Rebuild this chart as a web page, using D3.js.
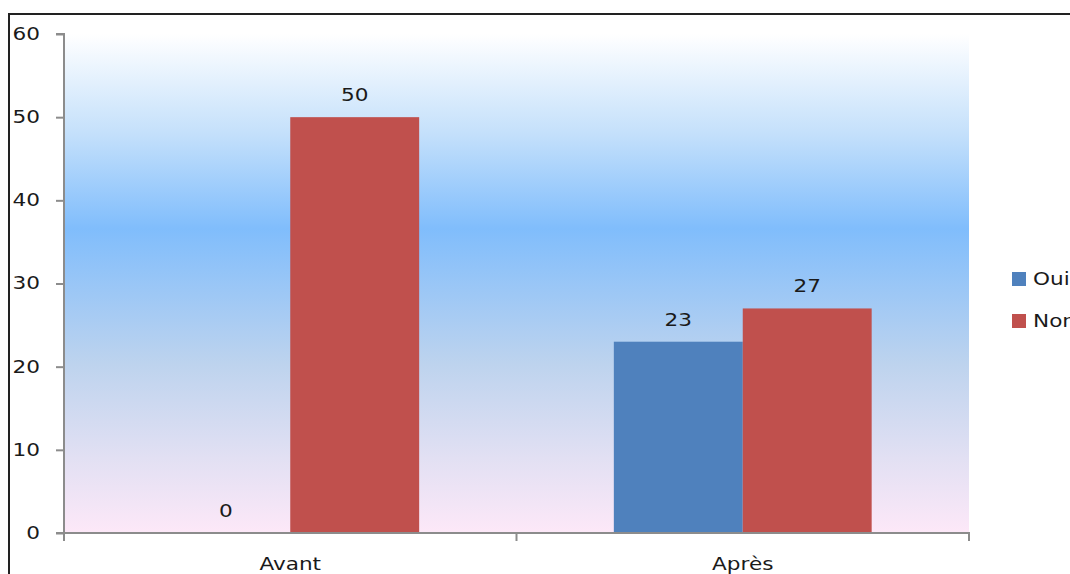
<!DOCTYPE html>
<html><head><meta charset="utf-8">
<script src="https://cdn.jsdelivr.net/npm/d3@7"></script>
<style>body{margin:0;background:#fff}svg{display:block}</style>
</head><body>
<svg id="c" width="1070" height="574"></svg>
<script>
const categories = ["Avant", "Après"];
const seriesNames = ["Oui", "Non"];
const oui = [0, 23];
const non = [50, 27];
const yTicks = [0, 10, 20, 30, 40, 50, 60];
const colors = ["#4f81bd", "#c0504d"];

const svg = d3.select("#c");
const font = "DejaVu Sans, Verdana, sans-serif";
const FS = 17, SX = 1.27;
const m = {l: 64, r: 969, t: 34, b: 533};

// helper: horizontally stretched text at (x,y)
function stretch(sel) {
  sel.each(function() {
    const t = d3.select(this);
    const x = +t.attr("x") || 0;
    t.attr("x", x / SX).attr("transform", `scale(${SX},1)`);
  });
}

// frame
svg.append("rect").attr("x", 9).attr("y", 14).attr("width", 1200).attr("height", 700)
  .attr("fill", "none").attr("stroke", "#222").attr("stroke-width", 2);

const defs = svg.append("defs");
const g = defs.append("linearGradient").attr("id", "bg").attr("x1", 0).attr("y1", 0).attr("x2", 0).attr("y2", 1);
[[0, "#ffffff"], [0.2, "#c4e0fb"], [0.39, "#80bdfc"], [0.66, "#bdd3ee"], [0.85, "#e2e0f3"], [1, "#fde8f8"]]
  .forEach(([o, c]) => g.append("stop").attr("offset", o).attr("stop-color", c));

svg.append("rect").attr("x", m.l).attr("y", m.t).attr("width", m.r - m.l).attr("height", m.b - m.t)
  .attr("fill", "url(#bg)");

const x0 = d3.scaleBand().domain(categories).range([m.l, m.r]).paddingInner(0).paddingOuter(0);
const x1 = d3.scaleBand().domain(seriesNames).range([0, x0.bandwidth()]).paddingInner(0).paddingOuter(0.755);
const y = d3.scaleLinear().domain([0, 60]).range([m.b, m.t]);

const data = categories.map((c, i) => ({cat: c, vals: [oui[i], non[i]]}));

const grp = svg.append("g").selectAll("g").data(data).join("g")
  .attr("transform", d => `translate(${x0(d.cat)},0)`);
grp.selectAll("rect").data(d => d.vals.map((v, j) => ({v, s: seriesNames[j], j}))).join("rect")
  .attr("x", d => x1(d.s)).attr("width", x1.bandwidth())
  .attr("y", d => y(d.v)).attr("height", d => y(0) - y(d.v))
  .attr("fill", d => colors[d.j]);
grp.selectAll("text").data(d => d.vals.map((v, j) => ({v, s: seriesNames[j], j}))).join("text")
  .attr("x", d => x1(d.s) + x1.bandwidth() / 2).attr("y", d => y(d.v) - 16)
  .attr("text-anchor", "middle").attr("font-family", font).attr("font-size", FS).attr("fill", "#1a1a1a")
  .text(d => d.v)
  .call(stretch);

// y axis
const ya = svg.append("g").attr("transform", `translate(${m.l},0)`)
  .call(d3.axisLeft(y).tickValues(yTicks).tickSize(8).tickPadding(16));
ya.select(".domain").attr("stroke", "#8c8c8c").attr("stroke-width", 2).attr("d", `M-8,${m.t}H0V${m.b}H-8`);
ya.selectAll(".tick line").attr("stroke", "#8c8c8c").attr("stroke-width", 2);
ya.selectAll(".tick text").attr("font-family", font).attr("font-size", FS).attr("fill", "#1a1a1a").call(stretch);

// x axis
const xa = svg.append("g").attr("transform", `translate(0,${m.b})`)
  .call(d3.axisBottom(x0).tickSize(0).tickPadding(25));
xa.select(".domain").attr("stroke", "#8c8c8c").attr("stroke-width", 2).attr("d", `M${m.l},8V0H${m.r}V8`);
xa.selectAll(".tick text").attr("font-family", font).attr("font-size", FS).attr("fill", "#1a1a1a").call(stretch);
const bounds = [m.l, m.l + x0.bandwidth(), m.r];
xa.selectAll("line.sep").data(bounds).join("line").attr("class", "sep")
  .attr("x1", d => d).attr("x2", d => d).attr("y1", 0).attr("y2", 8)
  .attr("stroke", "#8c8c8c").attr("stroke-width", 2);

// legend
const lg = svg.append("g").selectAll("g").data(seriesNames).join("g")
  .attr("transform", (d, i) => `translate(1012,${272 + i * 42})`);
lg.append("rect").attr("width", 14).attr("height", 14).attr("fill", (d, i) => colors[i]);
lg.append("text").attr("x", 21).attr("y", 13).attr("font-family", font).attr("font-size", FS)
  .attr("fill", "#1a1a1a").text(d => d).call(stretch);
</script>
</body></html>
